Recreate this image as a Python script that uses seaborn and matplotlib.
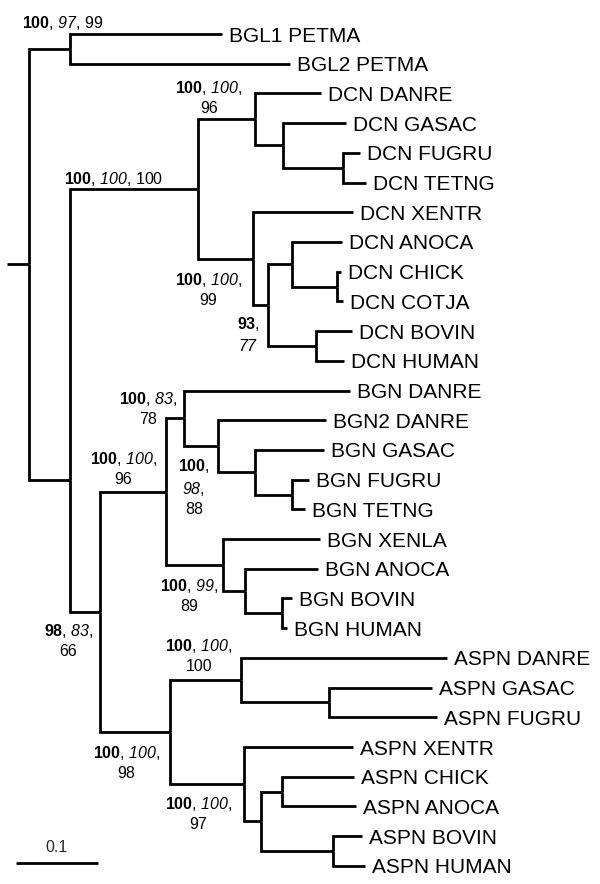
import pandas as pd
import matplotlib
matplotlib.use("Agg")
import matplotlib.pyplot as plt
import seaborn as sns

# Tree edges: (node, parent, branch length), children listed top to bottom
root_stub = 0.027
bgl_edges = [
    ("A", "root", 0.050),
    ("BGL1 PETMA", "A", 0.185),
    ("BGL2 PETMA", "A", 0.268),
    ("N1", "root", 0.050),
]
dcn_edges = [
    ("DCN", "N1", 0.156),
    ("DCNf", "DCN", 0.070),
    ("DCN DANRE", "DCNf", 0.080),
    ("DCNf2", "DCNf", 0.034),
    ("DCN GASAC", "DCNf2", 0.077),
    ("DCNf3", "DCNf2", 0.073),
    ("DCN FUGRU", "DCNf3", 0.021),
    ("DCN TETNG", "DCNf3", 0.028),
    ("DCNt", "DCN", 0.067),
    ("DCN XENTR", "DCNt", 0.122),
    ("DCNt2", "DCNt", 0.018),
    ("DCNt3", "DCNt2", 0.030),
    ("DCN ANOCA", "DCNt3", 0.061),
    ("DCNt4", "DCNt3", 0.055),
    ("DCN CHICK", "DCNt4", 0.004),
    ("DCN COTJA", "DCNt4", 0.007),
    ("DCNt5", "DCNt2", 0.059),
    ("DCN BOVIN", "DCNt5", 0.044),
    ("DCN HUMAN", "DCNt5", 0.034),
]
bgn_edges = [
    ("N2", "N1", 0.037),
    ("BGN", "N2", 0.080),
    ("BGNf", "BGN", 0.022),
    ("BGN DANRE", "BGNf", 0.202),
    ("BGNf2", "BGNf", 0.041),
    ("BGN2 DANRE", "BGNf2", 0.132),
    ("BGNf3", "BGNf2", 0.046),
    ("BGN GASAC", "BGNf3", 0.084),
    ("BGNf4", "BGNf3", 0.045),
    ("BGN FUGRU", "BGNf4", 0.020),
    ("BGN TETNG", "BGNf4", 0.016),
    ("BGNt", "BGN", 0.070),
    ("BGN XENLA", "BGNt", 0.118),
    ("BGNt2", "BGNt", 0.026),
    ("BGN ANOCA", "BGNt2", 0.089),
    ("BGNt3", "BGNt2", 0.046),
    ("BGN BOVIN", "BGNt3", 0.012),
    ("BGN HUMAN", "BGNt3", 0.006),
]
aspn_edges = [
    ("ASPN", "N2", 0.085),
    ("ASPNf", "ASPN", 0.087),
    ("ASPN DANRE", "ASPNf", 0.251),
    ("ASPNf2", "ASPNf", 0.107),
    ("ASPN GASAC", "ASPNf2", 0.126),
    ("ASPN FUGRU", "ASPNf2", 0.132),
    ("ASPNt", "ASPN", 0.090),
    ("ASPN XENTR", "ASPNt", 0.133),
    ("ASPNt2", "ASPNt", 0.021),
    ("ASPNt3", "ASPNt2", 0.026),
    ("ASPN CHICK", "ASPNt3", 0.087),
    ("ASPN ANOCA", "ASPNt3", 0.090),
    ("ASPNt4", "ASPNt2", 0.088),
    ("ASPN BOVIN", "ASPNt4", 0.035),
    ("ASPN HUMAN", "ASPNt4", 0.039),
]

# Support values: bold / italic / plain
support_nodes = ["A", "DCN", "DCNf", "DCNt", "DCNt2", "N2", "BGN",
                 "BGNf", "BGNf2", "BGNt", "ASPN", "ASPNf", "ASPNt"]
support_bold = [100, 100, 100, 100, 93, 98, 100, 100, 100, 100, 100, 100, 100]
support_ital = [97, 100, 100, 100, 77, 83, 100, 83, 98, 99, 100, 100, 100]
support_plain = [99, 100, 96, 99, None, 66, 96, 78, 88, 89, 98, 100, 97]

scale_length = 0.1
scale_label = "0.1"

# label placement: (lines, dx px of right edge, dy px, side)
label_layout = {
    "A": (1, 33, 17, "above"), "DCN": (1, -35, 1, "above"),
    "DCNf": (2, -13, 3, "above"), "DCNt": (2, -11, -12, "below"),
    "DCNt2": (2, -8, -10, "below"), "N2": (2, -7, -10, "below"),
    "BGN": (2, -9, 5, "above"), "BGNf": (2, -7, -9, "above"),
    "BGNf2": (3, -8, -11, "below"), "BGNt": (2, -5, -12, "below"),
    "ASPN": (2, -10, -12, "below"), "ASPNf": (2, -9, 6, "above"),
    "ASPNt": (2, -12, -11, "below"),
}
span_centered = ["N1"]

# ---- layout ----
edges = bgl_edges + dcn_edges + bgn_edges + aspn_edges
children = {}
blen = {}
for c, p, l in edges:
    children.setdefault(p, []).append(c)
    blen[c] = l
parent = {c: p for c, p, _ in edges}

xpos, ypos, span = {"root": 0.0}, {}, {}
leaves = []


def place(n):
    if n != "root":
        xpos[n] = xpos[parent[n]] + blen[n]
    kids = children.get(n, [])
    if not kids:
        ypos[n] = len(leaves)
        span[n] = (ypos[n], ypos[n])
        leaves.append(n)
        return
    for k in kids:
        place(k)
    span[n] = (span[kids[0]][0], span[kids[-1]][1])
    if n in span_centered:
        ypos[n] = sum(span[n]) / 2
    else:
        ypos[n] = (ypos[kids[0]] + ypos[kids[-1]]) / 2


place("root")

rows = [("stub", -root_stub, ypos["root"]), ("stub", 0.0, ypos["root"])]
for c, p, _ in edges:
    rows.append((c, xpos[p], ypos[p]))
    rows.append((c, xpos[p], ypos[c]))
    rows.append((c, xpos[c], ypos[c]))
seg = pd.DataFrame(rows, columns=["seg", "x", "y"])

# ---- drawing ----
sns.set_theme(style="white")
plt.rcParams["font.family"] = ["Liberation Sans", "DejaVu Sans"]
plt.rcParams["mathtext.fontset"] = "custom"
plt.rcParams["mathtext.rm"] = "Liberation Sans"
plt.rcParams["mathtext.sf"] = "Liberation Sans:italic"
plt.rcParams["mathtext.bf"] = "Liberation Sans:bold"

fig = plt.figure(figsize=(6, 8.84), dpi=100)
ax = fig.add_axes([0, 0, 1, 1])
sns.lineplot(data=seg, x="x", y="y", units="seg", estimator=None, sort=False,
             color="black", linewidth=2, solid_joinstyle="miter",
             solid_capstyle="butt", ax=ax)

for n in leaves:
    ax.annotate(n, xy=(xpos[n], ypos[n]), xytext=(7, -2),
                textcoords="offset pixels", ha="left", va="center",
                fontsize=15, color="black")

for n, b, m, pl in zip(support_nodes, support_bold, support_ital, support_plain):
    # italic digits through the sf slot (mathtext keeps digits upright in \mathit)
    parts = [r"$\mathbf{%d}$" % b, r"$\mathsf{%d}$" % m]
    if pl is not None:
        parts.append(str(pl))
    nlines, dx, dy, side = label_layout[n]
    if nlines == 1:
        txt = ", ".join(parts)
    elif nlines == 3 or len(parts) == 2:
        txt = ",\n".join(parts)
    else:
        txt = ", ".join(parts[:2]) + ",\n" + parts[2]
    ax.annotate(txt, xy=(xpos[n], ypos[n]), xytext=(dx, dy),
                textcoords="offset pixels", ha="right", ma="center",
                va="bottom" if side == "above" else "top",
                fontsize=11.5, linespacing=1.35, color="black")

# scale bar
bar_y = len(leaves) - 1 - 0.1
bar_x0 = -0.016
ax.plot([bar_x0, bar_x0 + scale_length], [bar_y, bar_y], color="black",
        linewidth=2, solid_capstyle="butt")
ax.annotate(scale_label, xy=(bar_x0 + scale_length / 2, bar_y), xytext=(0, 8),
            textcoords="offset pixels", ha="center", va="bottom", fontsize=11.5)

px = 820.0  # pixels per unit branch length
ax.set_xlim(-29 / px, 571 / px)
ax.set_ylim((884 - 34) / 29.71, -34 / 29.71)
ax.set_axis_off()

fig.savefig("out.png", dpi=100)
